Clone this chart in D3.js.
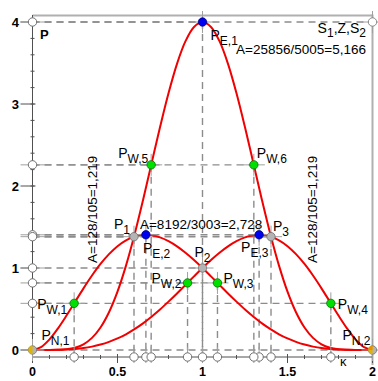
<!DOCTYPE html>
<html>
<head>
<meta charset="utf-8">
<script src="https://cdn.jsdelivr.net/npm/d3@7"></script>
<style>
  body { margin: 0; background: #fff; }
  svg { display: block; font-family: "Liberation Sans", Arial, sans-serif; }
</style>
</head>
<body>
<svg id="chart" width="378" height="381"></svg>
<script>
// kappa sample positions and the three curves
const kappa = [0, 0.05, 0.1, 0.15, 0.2, 0.25, 0.3, 0.35, 0.4, 0.45, 0.5, 0.55, 0.6, 0.65, 0.7, 0.75, 0.8, 0.85, 0.9, 0.95,
  1, 1.05, 1.1, 1.15, 1.2, 1.25, 1.3, 1.35, 1.4, 1.45, 1.5, 1.55, 1.6, 1.65, 1.7, 1.75, 1.8, 1.85, 1.9, 1.95, 2];
const curveLeft = [0, 0.036, 0.130, 0.264, 0.420, 0.586, 0.752, 0.908, 1.049, 1.169, 1.266, 1.337, 1.383, 1.403, 1.400, 1.373, 1.327, 1.264, 1.186, 1.097,
  1.000, 0.898, 0.794, 0.690, 0.590, 0.494, 0.406, 0.325, 0.254, 0.192, 0.141, 0.099, 0.066, 0.041, 0.023, 0.012, 0.005, 0.002, 0.000, 0.000, 0];
const curveRight = [0, 0.000, 0.000, 0.002, 0.005, 0.012, 0.023, 0.041, 0.066, 0.099, 0.141, 0.192, 0.254, 0.325, 0.406, 0.494, 0.590, 0.690, 0.794, 0.898,
  1.000, 1.097, 1.186, 1.264, 1.327, 1.373, 1.400, 1.403, 1.383, 1.337, 1.266, 1.169, 1.049, 0.908, 0.752, 0.586, 0.420, 0.264, 0.130, 0.036, 0];
const curveBell = [0, 0.000, 0.000, 0.002, 0.009, 0.028, 0.070, 0.148, 0.275, 0.461, 0.712, 1.029, 1.405, 1.826, 2.272, 2.716, 3.131, 3.490, 3.766, 3.940,
  4.000, 3.940, 3.766, 3.490, 3.131, 2.716, 2.272, 1.826, 1.405, 1.029, 0.712, 0.461, 0.275, 0.148, 0.070, 0.028, 0.009, 0.002, 0.000, 0.000, 0];

// marked points
const pointNames = ['E,1', 'E,2', 'E,3', 'W,1', 'W,2', 'W,3', 'W,4', 'W,5', 'W,6', '1', '2', '3', 'N,1', 'N,2', ''];
const pointX = [1, 0.667, 1.333, 0.245, 0.912, 1.088, 1.755, 0.698, 1.302, 0.597, 1, 1.403, 0, 2, 2];
const pointY = [4, 1.405, 1.405, 0.569, 0.818, 0.818, 0.569, 2.258, 2.258, 1.382, 1, 1.382, 0, 0, 4];
const pointKind = ['E', 'E', 'E', 'W', 'W', 'W', 'W', 'W', 'W', 'S', 'S', 'S', 'N', 'N', 'O'];

const xTicks = [0, 0.5, 1, 1.5, 2];
const xTickLabels = ['0', '0.5', '1', '1.5', '2'];
const yTicks = [0, 1, 2, 3, 4];
const yTickLabels = ['0', '1', '2', '3', '4'];
const areaTotal = 'A=25856/5005=5,166';
const areaBell = 'A=8192/3003=2,728';
const areaSide = 'A=128/105=1,219';

const x = d3.scaleLinear().domain([0, 2]).range([32.5, 372.5]);
const y = d3.scaleLinear().domain([0, 4]).range([350, 22]);
const axisY = 357;

const svg = d3.select('#chart');
const kindFill = { E: '#0000f0', W: '#00e000', S: '#b4b4b4', N: '#b4b4b4', O: '#ffffff' };
const kindStroke = { E: '#000080', W: '#007000', S: '#707070', N: '#707070', O: '#707070' };

// frame lines (grey)
svg.append('line').attr('x1', x(0)).attr('x2', x(2)).attr('y1', y(4) - 6.5).attr('y2', y(4) - 6.5)
  .attr('stroke', '#b0b0b0').attr('stroke-width', 2);
svg.append('line').attr('x1', x(2)).attr('x2', x(2)).attr('y1', y(4) - 7.5).attr('y2', axisY + 8)
  .attr('stroke', '#b0b0b0').attr('stroke-width', 2);

// dashed helper lines
const dashG = svg.append('g').attr('stroke', '#8c8c8c').attr('stroke-width', 1.4).attr('stroke-dasharray', '7,5').attr('fill', 'none');
pointX.forEach((px, i) => {
  dashG.append('line').attr('x1', x(0)).attr('x2', x(px)).attr('y1', y(pointY[i])).attr('y2', y(pointY[i]));
  if (px > 0 && px < 2) {
    dashG.append('line').attr('x1', x(px)).attr('x2', x(px)).attr('y1', y(pointY[i])).attr('y2', axisY);
  }
});

// axes
const axG = svg.append('g').attr('stroke', '#505050').attr('stroke-width', 1);
axG.append('line').attr('x1', x(0)).attr('x2', x(0)).attr('y1', y(4) - 7).attr('y2', axisY + 6);
axG.append('line').attr('x1', x(0)).attr('x2', x(2)).attr('y1', axisY).attr('y2', axisY);
d3.range(0, 4.001, 0.2).forEach(v => {
  axG.append('line').attr('x1', x(0) - 2).attr('x2', x(0) + 2).attr('y1', y(v)).attr('y2', y(v));
});
yTicks.forEach(v => {
  axG.append('line').attr('x1', x(0) - 12).attr('x2', x(0) + 3).attr('y1', y(v)).attr('y2', y(v));
});
d3.range(0, 2.001, 0.1).forEach(v => {
  axG.append('line').attr('x1', x(v)).attr('x2', x(v)).attr('y1', axisY - 2).attr('y2', axisY + 2);
});
xTicks.forEach(v => {
  axG.append('line').attr('x1', x(v)).attr('x2', x(v)).attr('y1', axisY - 3).attr('y2', axisY + 6);
});

svg.append('g').selectAll('text').data(yTicks).enter().append('text')
  .attr('x', 19).attr('y', d => y(d) + 4.5).attr('text-anchor', 'end')
  .attr('font-size', 13).attr('font-weight', 'bold').text((d, i) => yTickLabels[i]);
svg.append('g').selectAll('text').data(xTicks).enter().append('text')
  .attr('x', d => x(d)).attr('y', 376).attr('text-anchor', 'middle')
  .attr('font-size', 12.5).attr('font-weight', 'bold').text((d, i) => xTickLabels[i]);

// curves
const line = d3.line().x(d => x(d[0])).y(d => y(d[1])).curve(d3.curveCatmullRom);
[curveLeft, curveRight, curveBell].forEach(c => {
  svg.append('path').datum(kappa.map((k, i) => [k, c[i]]))
    .attr('d', line).attr('fill', 'none').attr('stroke', '#f00000').attr('stroke-width', 2);
});

// small solid crosses + markers on the axes
const crossG = svg.append('g').attr('stroke', '#a0a0a0').attr('stroke-width', 1);
const yLevels = Array.from(new Set(pointY));
const xLevels = Array.from(new Set(pointX)).filter(v => v > 0 && v < 2);
yLevels.forEach(v => {
  crossG.append('line').attr('x1', x(0) - 12).attr('x2', x(0) + 12).attr('y1', y(v)).attr('y2', y(v));
});
xLevels.forEach(v => {
  crossG.append('line').attr('x1', x(v)).attr('x2', x(v)).attr('y1', axisY - 10).attr('y2', axisY + 6);
});
pointX.forEach((px, i) => {
  crossG.append('line').attr('x1', x(px) - 11).attr('x2', x(px) + 11).attr('y1', y(pointY[i])).attr('y2', y(pointY[i]));
  crossG.append('line').attr('x1', x(px)).attr('x2', x(px)).attr('y1', y(pointY[i]) - 11).attr('y2', y(pointY[i]) + 11);
});

const markG = svg.append('g').attr('fill', '#fff').attr('stroke', '#707070').attr('stroke-width', 1);
yLevels.filter(v => v > 0).forEach(v => {
  markG.append('circle').attr('cx', x(0)).attr('cy', y(v)).attr('r', 4.2);
});
xLevels.forEach(v => {
  markG.append('circle').attr('cx', x(v)).attr('cy', axisY).attr('r', 4.2);
});

// points
const arc = d3.arc().innerRadius(0).outerRadius(4.2);
pointX.forEach((px, i) => {
  const k = pointKind[i];
  const g = svg.append('g').attr('transform', `translate(${x(px)},${y(pointY[i])})`);
  g.append('circle').attr('r', 4.2).attr('fill', kindFill[k]).attr('stroke', kindStroke[k]).attr('stroke-width', 0.8);
  if (k === 'N') {
    g.append('path').attr('d', arc({ startAngle: Math.PI, endAngle: 2 * Math.PI })).attr('fill', '#e0b400');
    if (px > 1) g.append('path').attr('d', arc({ startAngle: 1.5 * Math.PI, endAngle: 2 * Math.PI })).attr('fill', '#f08c00');
  }
});

// point labels
const labelPos = {
  'E,1': [8, 18, 'start'], 'E,2': [-3, 18, 'start'], 'E,3': [-18, 17, 'start'],
  'W,1': [-7, 6, 'end'], 'W,2': [-6, 0, 'end'], 'W,3': [6, 0, 'start'], 'W,4': [7, 6, 'start'],
  'W,5': [-3, -7, 'end'], 'W,6': [3, -7, 'start'],
  '1': [-4, -8, 'end'], '2': [-8, -11, 'start'], '3': [2, -6, 'start'],
  'N,1': [9, -10, 'start'], 'N,2': [-2, -10, 'end']
};
pointNames.forEach((name, i) => {
  if (!name) return;
  const p = labelPos[name];
  const t = svg.append('text').attr('x', x(pointX[i]) + p[0]).attr('y', y(pointY[i]) + p[1])
    .attr('text-anchor', p[2]).attr('font-size', 14).attr('fill', '#000');
  t.append('tspan').text('P');
  t.append('tspan').attr('font-size', 12).attr('dy', 5).text(name);
});

// annotations
svg.append('text').attr('x', 40).attr('y', 39).attr('font-size', 13).attr('font-weight', 'bold').text('P');
const s = svg.append('text').attr('x', 366).attr('y', 33).attr('text-anchor', 'end').attr('font-size', 14);
s.append('tspan').text('S');
s.append('tspan').attr('font-size', 12).attr('dy', 4).text('1');
s.append('tspan').attr('dy', -4).text(',Z,S');
s.append('tspan').attr('font-size', 12).attr('dy', 4).text('2');
svg.append('text').attr('x', 366).attr('y', 54).attr('text-anchor', 'end').attr('font-size', 13.5).text(areaTotal);
svg.append('text').attr('x', x(0.597) + 6).attr('y', 229).attr('font-size', 13.5).text(areaBell);
svg.append('text').attr('transform', `translate(${x(0.38)},263) rotate(-90)`).attr('font-size', 13.5).text(areaSide);
svg.append('text').attr('transform', `translate(${x(1.675)},263) rotate(-90)`).attr('font-size', 13.5).text(areaSide);
svg.append('text').attr('x', 340).attr('y', 366).attr('font-size', 13).text('\u03ba');
</script>
</body>
</html>
